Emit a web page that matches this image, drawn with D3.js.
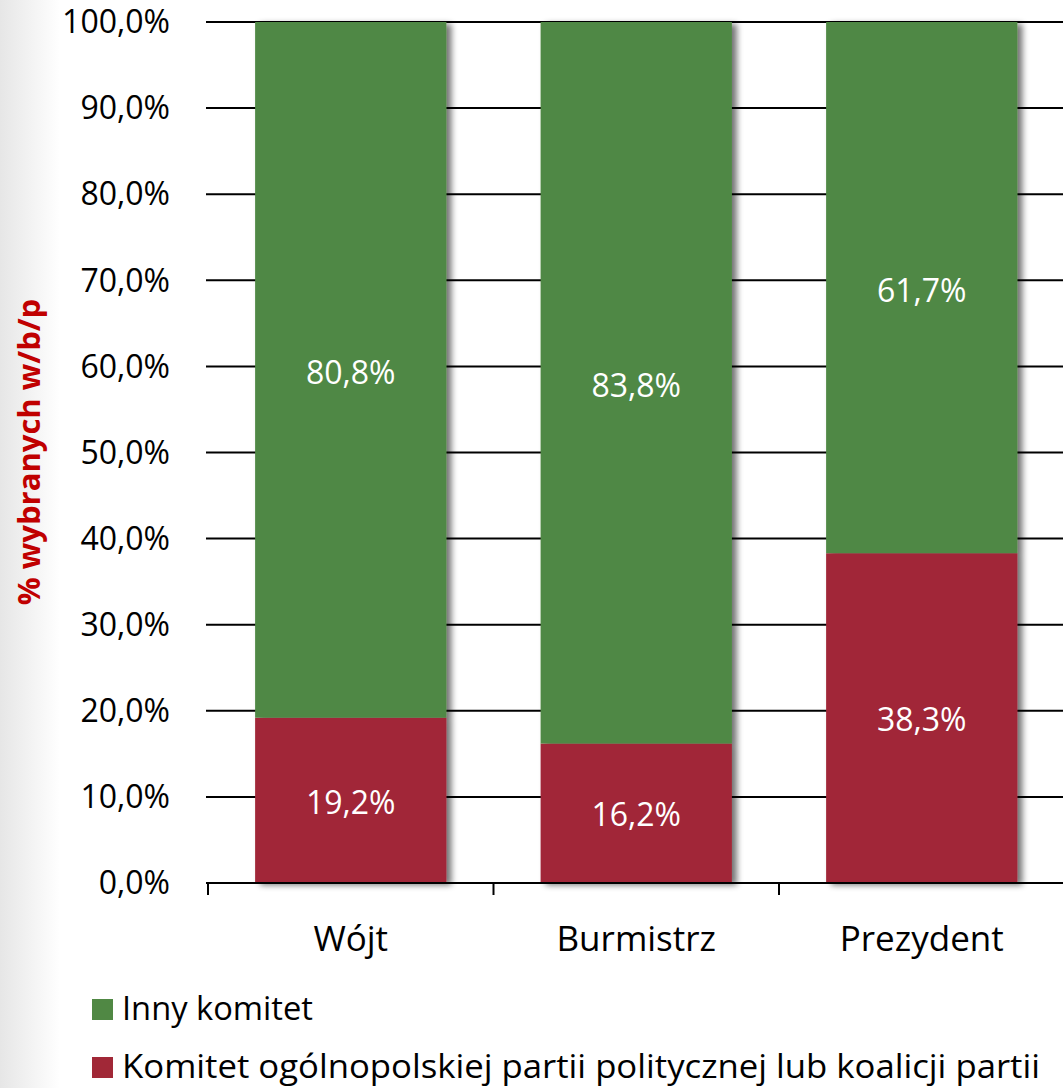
<!DOCTYPE html>
<html><head><meta charset="utf-8">
<script src="https://cdn.jsdelivr.net/npm/d3@7"></script>
<style>body{margin:0;background:#fff}svg{display:block}</style>
</head><body><svg id="c" width="1063" height="1088"></svg>
<script>
const categories = ["Wójt", "Burmistrz", "Prezydent"];
const partyValues = [19.2, 16.2, 38.3];
const otherValues = [80.8, 83.8, 61.7];
const yTicks = [0,10,20,30,40,50,60,70,80,90,100];
const seriesNames = ["Inny komitet", "Komitet ogólnopolskiej partii politycznej lub koalicji partii"];
const seriesColors = ["#508844", "#a12837"];

const svg = d3.select("#c");
const font = "'Open Sans', sans-serif";
const defs = svg.append("defs");
const lg = defs.append("linearGradient").attr("id","bg").attr("x1",0).attr("x2",1).attr("y1",0).attr("y2",0);
lg.append("stop").attr("offset",0).attr("stop-color","#e6e6e6");
lg.append("stop").attr("offset",1).attr("stop-color","#ffffff");
svg.append("rect").attr("x",0).attr("y",0).attr("width",60).attr("height",1088).attr("fill","url(#bg)");
const f = defs.append("filter").attr("id","sh").attr("x","-10%").attr("y","-10%").attr("width","130%").attr("height","130%");
f.append("feGaussianBlur").attr("in","SourceAlpha").attr("stdDeviation",3);
f.append("feOffset").attr("dx",5).attr("dy",2).attr("result","ob");
f.append("feComponentTransfer").append("feFuncA").attr("type","linear").attr("slope",0.55);
const m = f.append("feMerge"); m.append("feMergeNode"); m.append("feMergeNode").attr("in","SourceGraphic");

const x0 = 208, x1 = 1064.5, yTop = 22, yBot = 883;
const x = d3.scaleBand().domain(categories).range([x0, x1]).paddingInner(0.33).paddingOuter(0.165);
const y = d3.scaleLinear().domain([0,100]).range([yBot, yTop]);

// gridlines
svg.append("g").selectAll("line").data(yTicks.filter(d=>d>0)).join("line")
  .attr("x1",206).attr("x2",1063).attr("y1",d=>y(d)).attr("y2",d=>y(d))
  .attr("stroke","#000").attr("stroke-width",2);

// y tick labels
svg.append("g").selectAll("text").data(yTicks).join("text")
  .attr("x",170).attr("y",d=>y(d)).attr("dy","0.35em").attr("text-anchor","end")
  .attr("font-family",font).attr("font-size",32).attr("fill","#000")
  .text(d=>d.toFixed(1).replace(".",",")+"%");

// bars
const data = categories.map((c,i)=>({c, p:partyValues[i], o:otherValues[i]}));
const bars = svg.append("g");
data.forEach(d=>{
  const g = bars.append("g").attr("filter","url(#sh)");
  g.append("rect").attr("x",x(d.c)).attr("width",x.bandwidth())
    .attr("y",y(d.p)).attr("height",y(0)-y(d.p)).attr("fill",seriesColors[1]);
  g.append("rect").attr("x",x(d.c)).attr("width",x.bandwidth())
    .attr("y",y(d.p+d.o)).attr("height",y(d.p)-y(d.p+d.o)).attr("fill",seriesColors[0]);
});
// labels
const lbl = svg.append("g").attr("font-family",font).attr("font-size",32).attr("fill","#fff").attr("text-anchor","middle");
data.forEach(d=>{
  const cx = x(d.c)+x.bandwidth()/2;
  lbl.append("text").attr("x",cx).attr("y",y(d.p/2)+2).attr("dy","0.35em").text(d.p.toFixed(1).replace(".",",")+"%");
  lbl.append("text").attr("x",cx).attr("y",y(d.p+d.o/2)+3).attr("dy","0.35em").text(d.o.toFixed(1).replace(".",",")+"%");
});

// x axis
const xa = svg.append("g");
xa.append("line").attr("x1",206).attr("x2",1063).attr("y1",yBot).attr("y2",yBot).attr("stroke","#000").attr("stroke-width",2);
const step = x.step();
d3.range(0,4).forEach(i=>{
  const tx = x0 + i*step;
  xa.append("line").attr("x1",tx).attr("x2",tx).attr("y1",yBot).attr("y2",yBot+12).attr("stroke","#000").attr("stroke-width",2);
});
xa.selectAll("text").data(categories).join("text")
  .attr("x",d=>x0 + categories.indexOf(d)*step + step/2).attr("y",951)
  .attr("text-anchor","middle").attr("font-family",font).attr("font-size",35).attr("fill","#000").text(d=>d);

// y title
svg.append("text").attr("transform","translate(40,452) rotate(-90)").attr("text-anchor","middle")
  .attr("font-family",font).attr("font-weight","bold").attr("font-size",31).attr("fill","#c00000")
  .text("% wybranych w/b/p");

// legend
const legY = [999, 1057];
const legW = [191, 918];
seriesNames.forEach((n,i)=>{
  svg.append("rect").attr("x",92).attr("y",legY[i]).attr("width",21).attr("height",21).attr("fill",seriesColors[i]);
  svg.append("text").attr("x",122).attr("y",legY[i]+21).attr("font-family",font).attr("font-size",32)
    .attr("textLength",legW[i]).attr("lengthAdjust","spacingAndGlyphs").attr("fill","#000").text(n);
});
</script></body></html>
